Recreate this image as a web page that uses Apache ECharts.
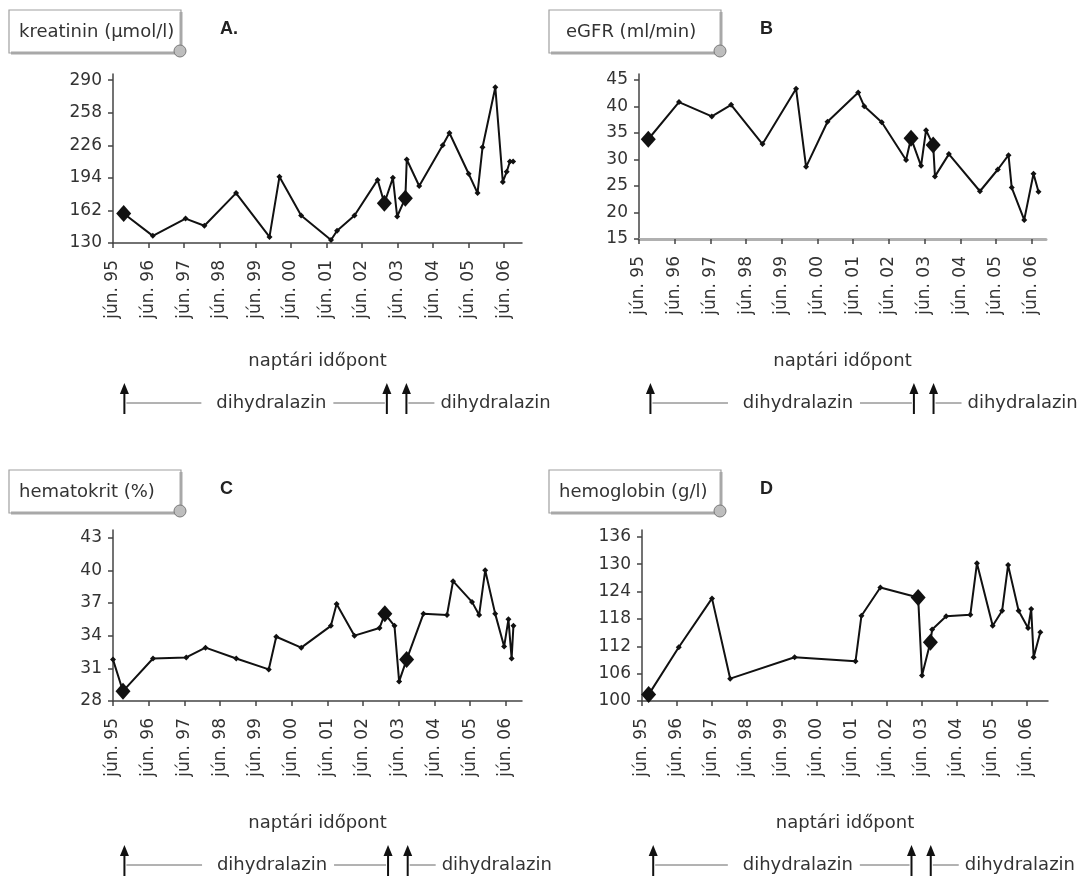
<!DOCTYPE html>
<html>
<head>
<meta charset="utf-8">
<script src="https://cdn.jsdelivr.net/npm/echarts@6/dist/echarts.min.js"></script>
<style>
  html, body { margin: 0; background: #fff; }
  #chart { width: 1081px; height: 876px; }
</style>
</head>
<body>
<div id="chart"></div>
<script>
// x values are years counted from jún. 95
const xTickLabels = ['jún. 95', 'jún. 96', 'jún. 97', 'jún. 98', 'jún. 99', 'jún. 00',
  'jún. 01', 'jún. 02', 'jún. 03', 'jún. 04', 'jún. 05', 'jún. 06'];

const kreatininT = [0.30, 1.12, 2.04, 2.57, 3.46, 4.40, 4.68, 5.29, 6.13, 6.30, 6.79, 7.44, 7.63, 7.87,
  7.99, 8.22, 8.26, 8.61, 9.27, 9.46, 10.00, 10.25, 10.39, 10.75, 10.96, 11.07, 11.16, 11.25];
const kreatininV = [159, 137, 154, 147, 179, 136, 195, 157, 133, 142, 157, 192, 169, 194,
  156, 174, 212, 186, 226, 238, 198, 179, 224, 283, 190, 200, 210, 210];
const kreatininMarks = [0, 12, 15];
const kreatininTicks = [130, 162, 194, 226, 258, 290];

const egfrT = [0.26, 1.12, 2.04, 2.58, 3.46, 4.40, 4.68, 5.28, 6.14, 6.31, 6.80, 7.48, 7.62, 7.90,
  8.04, 8.24, 8.29, 8.68, 9.55, 10.05, 10.35, 10.44, 10.79, 11.05, 11.19];
const egfrV = [33.8, 40.8, 38.1, 40.3, 32.9, 43.3, 28.6, 37.1, 42.6, 40.0, 37.0, 29.9, 34.0, 28.8,
  35.5, 32.7, 26.8, 31.0, 24.0, 28.1, 30.8, 24.7, 18.6, 27.3, 23.9];
const egfrMarks = [0, 12, 15];
const egfrTicks = [15, 20, 25, 30, 35, 40, 45];

const hematokritT = [0.00, 0.28, 1.12, 2.05, 2.59, 3.45, 4.36, 4.57, 5.27, 6.10, 6.26, 6.76, 7.46, 7.61,
  7.88, 8.01, 8.22, 8.69, 9.35, 9.52, 10.05, 10.25, 10.42, 10.70, 10.95, 11.07, 11.16, 11.21];
const hematokritV = [31.8, 28.9, 31.9, 32.0, 32.9, 31.9, 30.9, 33.9, 32.9, 34.9, 36.9, 34.0, 34.7, 36.0,
  34.9, 29.8, 31.8, 36.0, 35.9, 39.0, 37.1, 35.9, 40.0, 36.0, 33.0, 35.5, 31.9, 34.9];
const hematokritMarks = [1, 13, 16];
const hematokritTicks = [28, 31, 34, 37, 40, 43];

const hemoglobinT = [0.19, 1.05, 2.00, 2.52, 4.36, 6.10, 6.27, 6.81, 7.89, 8.00, 8.24, 8.29,
  8.69, 9.38, 9.57, 10.02, 10.29, 10.46, 10.76, 11.03, 11.12, 11.19, 11.38];
const hemoglobinV = [101.4, 111.8, 122.5, 104.9, 109.6, 108.7, 118.7, 124.9, 122.7, 105.6, 112.9, 115.7,
  118.6, 118.9, 130.2, 116.5, 119.8, 129.8, 119.8, 116.0, 120.2, 109.6, 115.1];
const hemoglobinMarks = [0, 8, 10];
const hemoglobinTicks = [100, 106, 112, 118, 124, 130, 136];

// dihydralazin start, stop, restart
const therapyT = [0.32, 7.7, 8.25];
const therapyLabel = 'dihydralazin';
const xAxisName = 'naptári időpont';

const font = 'DejaVu Sans';
const ink = '#111';
const textColor = '#333';

const panels = [
  { title: 'kreatinin (µmol/l)', letter: 'A.', t: kreatininT, v: kreatininV, marks: kreatininMarks,
    ticks: kreatininTicks, yMax: 296, xMax: 11.5, grid: { left: 113, top: 74, width: 409, height: 169 },
    box: [9, 10], textX: 19, nameGap: 109, arrowTop: 383, axisColor: '#444', axisWidth: 1.5 },
  { title: 'eGFR (ml/min)', letter: 'B', t: egfrT, v: egfrV, marks: egfrMarks,
    ticks: egfrTicks, yMax: 46.1, xMax: 11.4, grid: { left: 639, top: 74, width: 407, height: 165 },
    box: [549, 10], textX: 566, nameGap: 113, arrowTop: 383, axisColor: '#b0b0b0', axisWidth: 3 },
  { title: 'hematokrit (%)', letter: 'C', t: hematokritT, v: hematokritV, marks: hematokritMarks,
    ticks: hematokritTicks, yMax: 43.7, xMax: 11.45, grid: { left: 113, top: 530, width: 409, height: 171 },
    box: [9, 470], textX: 19, nameGap: 113, arrowTop: 845, axisColor: '#444', axisWidth: 1.5 },
  { title: 'hemoglobin (g/l)', letter: 'D', t: hemoglobinT, v: hemoglobinV, marks: hemoglobinMarks,
    ticks: hemoglobinTicks, yMax: 137.5, xMax: 11.6, grid: { left: 642, top: 530, width: 406, height: 171 },
    box: [549, 470], textX: 559, nameGap: 113, arrowTop: 845, axisColor: '#444', axisWidth: 1.5 }
];

const xTickValues = xTickLabels.map((_, i) => i);

const chart = echarts.init(document.getElementById('chart'));

const option = {
  animation: false,
  grid: panels.map(p => p.grid),
  xAxis: panels.map((p, i) => ({
    type: 'value',
    gridIndex: i,
    min: 0,
    max: p.xMax,
    name: xAxisName,
    nameLocation: 'middle',
    nameGap: p.nameGap,
    nameTextStyle: { fontFamily: font, fontSize: 18, color: textColor },
    axisLine: { show: true, lineStyle: { color: p.axisColor, width: p.axisWidth } },
    axisTick: { show: true, customValues: xTickValues, length: 5, lineStyle: { color: '#444', width: 1.5 } },
    axisLabel: {
      customValues: xTickValues,
      rotate: 90,
      margin: 17,
      fontFamily: font,
      fontSize: 17,
      color: textColor,
      formatter: val => xTickLabels[Math.round(val)] || ''
    },
    splitLine: { show: false }
  })),
  yAxis: panels.map((p, i) => ({
    type: 'value',
    gridIndex: i,
    min: p.ticks[0],
    max: p.yMax,
    axisLine: { show: true, lineStyle: { color: '#444', width: 1.5 } },
    axisTick: { show: true, customValues: p.ticks, length: 5, lineStyle: { color: '#444', width: 1.5 } },
    axisLabel: { customValues: p.ticks, margin: 11, fontFamily: font, fontSize: 17, color: textColor },
    splitLine: { show: false }
  })),
  series: panels.flatMap((p, i) => [
    {
      type: 'line',
      xAxisIndex: i,
      yAxisIndex: i,
      data: p.t.map((x, k) => [x, p.v[k]]),
      symbol: 'diamond',
      symbolSize: 6,
      showAllSymbol: true,
      lineStyle: { color: ink, width: 2 },
      itemStyle: { color: ink }
    },
    {
      type: 'scatter',
      xAxisIndex: i,
      yAxisIndex: i,
      data: p.marks.map(k => [p.t[k], p.v[k]]),
      symbol: 'diamond',
      symbolSize: [15, 17],
      itemStyle: { color: ink, opacity: 1 },
      z: 5
    }
  ])
};

chart.setOption(option);

// label boxes, panel letters and the therapy arrows under each panel
const elements = [];
panels.forEach((p, i) => {
  const [bx, by] = p.box;
  const bw = 172, bh = 43;
  elements.push(
    { type: 'rect', shape: { x: bx, y: by, width: bw, height: bh }, style: { fill: '#fff', stroke: '#a0a0a0', lineWidth: 1.2 } },
    { type: 'line', shape: { x1: bx + 2, y1: by + bh, x2: bx + bw, y2: by + bh }, style: { stroke: '#a8a8a8', lineWidth: 3 } },
    { type: 'line', shape: { x1: bx + bw, y1: by + 2, x2: bx + bw, y2: by + bh }, style: { stroke: '#a8a8a8', lineWidth: 3 } },
    { type: 'circle', shape: { cx: bx + bw - 1, cy: by + bh - 2, r: 6 }, style: { fill: '#bdbdbd', stroke: '#7a7a7a', lineWidth: 1 } },
    { type: 'text', x: p.textX, y: by + 22, style: { text: p.title, fontFamily: font, fontSize: 18, fill: textColor, align: 'left', verticalAlign: 'middle' } },
    { type: 'text', x: bx + 211, y: by + 19, style: { text: p.letter, fontFamily: 'Liberation Sans', fontWeight: 'bold', fontSize: 18, fill: '#222', align: 'left', verticalAlign: 'middle' } }
  );

  const [a1, a2, a3] = therapyT.map(t => chart.convertToPixel({ gridIndex: i }, [t, p.ticks[0]])[0]);
  const top = p.arrowTop;
  const ly = top + 20;
  [a1, a2, a3].forEach(a => {
    elements.push(
      { type: 'line', shape: { x1: a, y1: top + 8, x2: a, y2: top + 31 }, style: { stroke: ink, lineWidth: 2 } },
      { type: 'polygon', shape: { points: [[a - 4.5, top + 11], [a + 4.5, top + 11], [a, top]] }, style: { fill: ink } }
    );
  });
  const cx = a1 + 0.56 * (a2 - a1);
  elements.push(
    { type: 'line', shape: { x1: a1 + 2, y1: ly, x2: cx - 70, y2: ly }, style: { stroke: '#666', lineWidth: 1 } },
    { type: 'text', x: cx, y: ly, style: { text: therapyLabel, fontFamily: font, fontSize: 18, fill: textColor, align: 'center', verticalAlign: 'middle' } },
    { type: 'line', shape: { x1: cx + 62, y1: ly, x2: a2 - 2, y2: ly }, style: { stroke: '#666', lineWidth: 1 } },
    { type: 'line', shape: { x1: a3 + 2, y1: ly, x2: a3 + 28, y2: ly }, style: { stroke: '#666', lineWidth: 1 } },
    { type: 'text', x: a3 + 34, y: ly, style: { text: therapyLabel, fontFamily: font, fontSize: 18, fill: textColor, align: 'left', verticalAlign: 'middle' } }
  );
});

chart.setOption({ graphic: { elements } });
</script>
</body>
</html>
